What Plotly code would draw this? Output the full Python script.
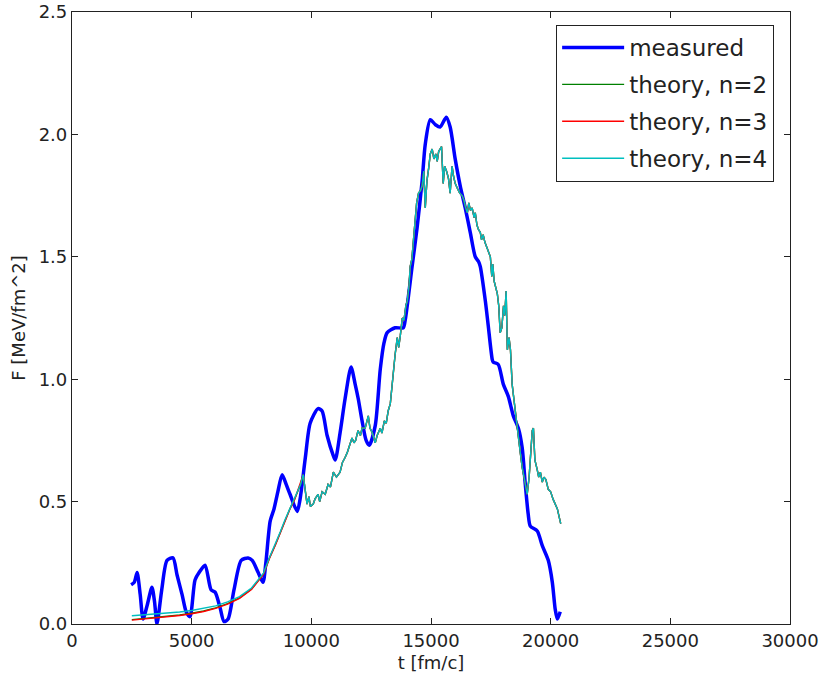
import plotly.graph_objects as go

# ---------------- data ----------------
t_meas = [2470, 2600, 2720, 2850, 2970, 3150, 3340, 3450, 3550, 3750, 3970, 4220, 4390, 4600,
          4770, 4930, 5140, 5310, 5560, 5810, 5980, 6190, 6350, 6520, 6770, 7070, 7360, 7530,
          7780, 7980, 8100, 8280, 8440, 8600, 8780, 8950, 9110, 9410, 9530, 9750, 9950, 10280,
          10450, 10660, 10910, 11000, 11200, 11410, 11660, 11830, 11960, 12120, 12290, 12420,
          12670, 12880, 13040, 13170, 13500, 13840, 13920, 14210, 14420, 14630, 14760, 14970,
          15180, 15380, 15640, 15800, 16010, 16220, 16430, 16640, 16850, 16990, 17060, 17270,
          17390, 17560, 17600, 17810, 18020, 18230, 18440, 18650, 18810, 18940, 19060, 19150,
          19440, 19650, 19900, 20070, 20190, 20280, 20400]
F_meas = [0.16, 0.17, 0.21, 0.12, 0.02, 0.08, 0.15, 0.09, 0.0, 0.14, 0.26, 0.27, 0.20, 0.12,
          0.05, 0.03, 0.18, 0.21, 0.24, 0.14, 0.13, 0.065, 0.01, 0.02, 0.14, 0.26, 0.27, 0.26,
          0.21, 0.17, 0.25, 0.42, 0.47, 0.54, 0.61, 0.57, 0.53, 0.46, 0.51, 0.68, 0.82, 0.88,
          0.87, 0.77, 0.69, 0.67, 0.78, 0.92, 1.05, 0.98, 0.92, 0.83, 0.75, 0.73,
          0.81, 1.04, 1.15, 1.19, 1.21, 1.21, 1.24, 1.46, 1.62, 1.81, 1.96, 2.06,
          2.04, 2.03, 2.07, 2.03, 1.90, 1.79, 1.70, 1.60, 1.50, 1.48, 1.46, 1.32,
          1.22, 1.08, 1.07, 1.06, 0.98, 0.93, 0.85, 0.80, 0.72, 0.57, 0.45, 0.40,
          0.38, 0.32, 0.26, 0.17, 0.06, 0.02, 0.05]

# smooth low-t part of the theory curves
t_theory_head = [2500, 3000, 3500, 4000, 4500, 5000, 5500, 6000, 6500, 7000, 7500, 8000,
                 8250, 8500, 8700, 8900, 9100, 9300]
F_n2_head = [0.018, 0.022, 0.026, 0.031, 0.037, 0.044, 0.053, 0.066, 0.083, 0.107, 0.143, 0.205,
             0.27, 0.325, 0.375, 0.425, 0.47, 0.51]
F_n3_head = [0.016, 0.020, 0.024, 0.029, 0.035, 0.042, 0.051, 0.064, 0.081, 0.105, 0.141, 0.203,
             0.268, 0.323, 0.373, 0.423, 0.468, 0.508]
F_n4_head = [0.034, 0.037, 0.040, 0.044, 0.049, 0.055, 0.063, 0.074, 0.090, 0.112, 0.147, 0.208,
             0.272, 0.327, 0.376, 0.426, 0.47, 0.51]

# noisy high-t part (the three theory curves practically coincide here)
t_theory_tail = [9450, 9550, 9660, 9740, 9820, 9900, 9960, 10080, 10150, 10280, 10350, 10450,
                 10580, 10700, 10800, 10920, 11050, 11200, 11300, 11410, 11500, 11600, 11700,
                 11780, 11850, 11950, 12050, 12120, 12250, 12380, 12450, 12550, 12670, 12750,
                 12880, 12950, 13050, 13130, 13210, 13300, 13380, 13420, 13500, 13590, 13650,
                 13720, 13800, 13870, 13950, 14010, 14080, 14130, 14200, 14260, 14340, 14400,
                 14480, 14560, 14630, 14700, 14760, 14830, 14900, 14970, 15050, 15120, 15200,
                 15260, 15320, 15380, 15440, 15510, 15570, 15650, 15730, 15800, 15880, 15940,
                 16010, 16100, 16200, 16300, 16380, 16450, 16520, 16580, 16650, 16720, 16800,
                 16850, 16920, 16990, 17060, 17110, 17180, 17250, 17320, 17400, 17480, 17540,
                 17580, 17640, 17700, 17770, 17830, 17890, 17960, 18030, 18080, 18140, 18190,
                 18260, 18320, 18390, 18450, 18520, 18590, 18650, 18730, 18810, 18880, 18940,
                 19020, 19100, 19160, 19230, 19280, 19340, 19440, 19500, 19570, 19650, 19720,
                 19800, 19900, 20000, 20100, 20200, 20280, 20350, 20420]
F_tail_n2 = [0.55, 0.57, 0.61, 0.55, 0.49, 0.52, 0.48, 0.49, 0.51, 0.53, 0.50, 0.54,
             0.53, 0.57, 0.56, 0.62, 0.60, 0.62, 0.66, 0.68, 0.70, 0.73, 0.76,
             0.74, 0.75, 0.79, 0.77, 0.80, 0.80, 0.85, 0.80, 0.78, 0.74, 0.77,
             0.80, 0.78, 0.83, 0.82, 0.87, 0.90, 0.98, 1.05, 1.10, 1.17, 1.13,
             1.18, 1.25, 1.24, 1.30, 1.32, 1.38, 1.46, 1.49, 1.56, 1.66, 1.72,
             1.76, 1.77, 1.79, 1.85, 1.70, 1.81, 1.86, 1.92, 1.94, 1.90, 1.92,
             1.89, 1.93, 1.94, 1.95, 1.80, 1.87, 1.85, 1.82, 1.76, 1.87, 1.83,
             1.80, 1.78, 1.76, 1.75, 1.73, 1.70, 1.68, 1.72, 1.69, 1.70, 1.66,
             1.68, 1.63, 1.61, 1.60, 1.57, 1.59, 1.56, 1.54, 1.52, 1.50, 1.42,
             1.47, 1.40, 1.38, 1.35, 1.30, 1.19, 1.21, 1.30, 1.26, 1.36, 1.12,
             1.17, 1.12, 0.98, 0.93, 0.87, 0.80, 0.75, 0.70, 0.64, 0.60, 0.56,
             0.53, 0.60, 0.70, 0.79, 0.80, 0.67, 0.63, 0.60, 0.62, 0.58, 0.60,
             0.59, 0.55, 0.54, 0.51, 0.49, 0.47, 0.44, 0.41]

t_theory = t_theory_head + t_theory_tail
F_n2 = F_n2_head + F_tail_n2
F_n3 = F_n3_head + F_tail_n2
F_n4 = F_n4_head + F_tail_n2

x_ticks = [0, 5000, 10000, 15000, 20000, 25000, 30000]
y_ticks = [0.0, 0.5, 1.0, 1.5, 2.0, 2.5]

# ---------------- figure ----------------
FONT = "DejaVu Sans"
fig = go.Figure()
fig.add_trace(go.Scatter(x=t_meas, y=F_meas, mode="lines", name="measured",
                         legendgroup="a",
                         line=dict(color="#0000ff", width=3.5, shape="spline", smoothing=0.7)))
fig.add_trace(go.Scatter(x=t_theory, y=F_n2, mode="lines", name="theory, n=2",
                         legendgroup="b", line=dict(color="#008000", width=1.4)))
fig.add_trace(go.Scatter(x=t_theory, y=F_n3, mode="lines", name="theory, n=3",
                         legendgroup="c", line=dict(color="#ff0000", width=1.4)))
fig.add_trace(go.Scatter(x=t_theory, y=F_n4, mode="lines", name="theory, n=4",
                         legendgroup="d", line=dict(color="#00bfbf", width=1.4)))

axis_common = dict(showline=True, linecolor="#222222", linewidth=1.2, mirror="ticks",
                   ticks="inside", ticklen=6, tickwidth=1, tickcolor="#222222",
                   showgrid=False, zeroline=False, automargin=False,
                   tickfont=dict(family=FONT, size=18, color="#222222"))

fig.update_xaxes(range=[0, 30000], tickvals=x_ticks, ticktext=[str(v) for v in x_ticks],
                 title=dict(text="t [fm/c]", font=dict(family=FONT, size=18, color="#222222"),
                            standoff=6),
                 **axis_common)
fig.update_yaxes(range=[0, 2.5], tickvals=y_ticks, ticktext=[f"{v:.1f}" for v in y_ticks],
                 title=dict(text="F [MeV/fm^2]", font=dict(family=FONT, size=18, color="#222222"),
                            standoff=8),
                 **axis_common)

fig.update_layout(
    width=819, height=682,
    margin=dict(l=72, r=29, t=12, b=58),
    paper_bgcolor="white", plot_bgcolor="white",
    font=dict(family=FONT, color="#222222"),
    showlegend=True,
    legend=dict(x=0.674, y=0.979, xanchor="left", yanchor="top",
                bgcolor="white", bordercolor="#222222", borderwidth=1.2,
                font=dict(family=FONT, size=23, color="#222222"),
                tracegroupgap=4, itemwidth=62, traceorder="grouped"),
)

fig.write_html("out.html")
